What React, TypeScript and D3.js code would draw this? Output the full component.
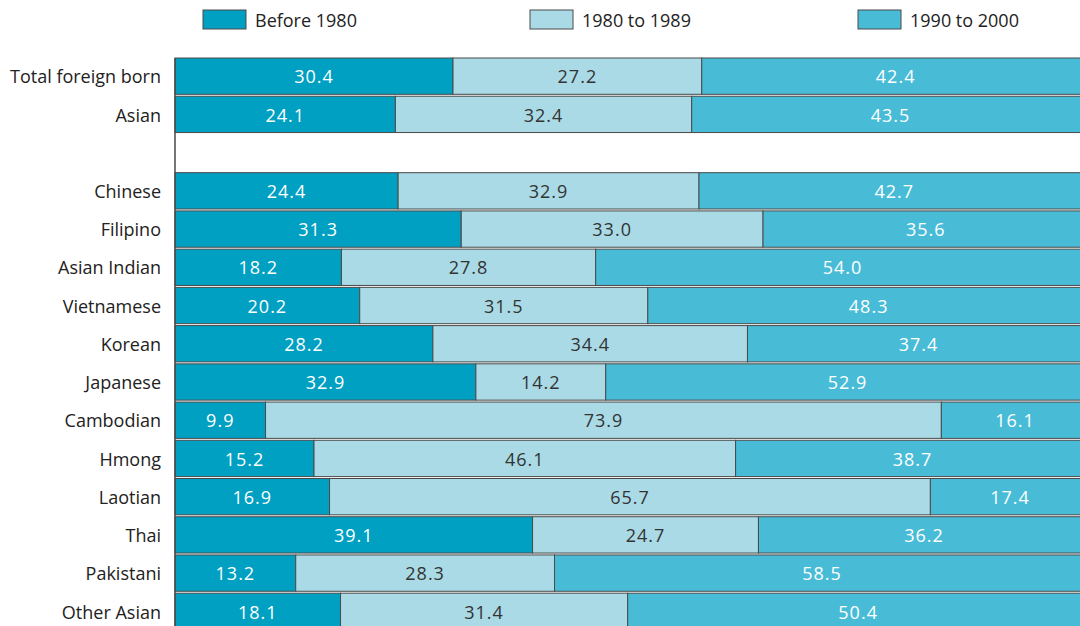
import { useEffect, useRef } from 'react';
import * as d3 from 'd3';

const categories = [
  'Total foreign born', 'Asian', '', 'Chinese', 'Filipino', 'Asian Indian', 'Vietnamese',
  'Korean', 'Japanese', 'Cambodian', 'Hmong', 'Laotian', 'Thai', 'Pakistani', 'Other Asian',
];
const before1980 = [30.4, 24.1, null, 24.4, 31.3, 18.2, 20.2, 28.2, 32.9, 9.9, 15.2, 16.9, 39.1, 13.2, 18.1];
const from1980 = [27.2, 32.4, null, 32.9, 33.0, 27.8, 31.5, 34.4, 14.2, 73.9, 46.1, 65.7, 24.7, 28.3, 31.4];
const from1990 = [42.4, 43.5, null, 42.7, 35.6, 54.0, 48.3, 37.4, 52.9, 16.1, 38.7, 17.4, 36.2, 58.5, 50.4];

const seriesNames = ['Before 1980', '1980 to 1989', '1990 to 2000'];
const colors = ['#00a0c2', '#a9dae6', '#48bcd7'];
const textColors = ['#ffffff', '#333333', '#ffffff'];

const FONT = '"Open Sans", Lato, sans-serif';

export default function App() {
  const svgRef = useRef<SVGSVGElement>(null);
  const width = 1080;
  const height = 626;

  useEffect(() => {
    if (!svgRef.current) return;
    const svg = d3.select(svgRef.current);
    svg.selectAll('*').remove();

    const left = 175;
    const top = 58;
    const rowH = 38.1;

    const x = d3.scaleLinear().domain([0, 100]).range([left, left + 914.5]);
    const y = d3.scaleBand<string>()
      .domain(categories.map((c, i) => c || `gap${i}`))
      .range([top, top + rowH * categories.length])
      .paddingInner(0.05)
      .paddingOuter(0);

    const rows = categories.map((c, i) => ({
      key: c || `gap${i}`,
      label: c,
      values: [before1980[i], from1980[i], from1990[i]],
    }));

    // segments
    const segs: { key: string; start: number; value: number; s: number }[] = [];
    rows.forEach(r => {
      let acc = 0;
      r.values.forEach((v, s) => {
        if (v == null) return;
        segs.push({ key: r.key, start: acc, value: v, s });
        acc += v;
      });
    });

    const g = svg.append('g');
    g.selectAll('rect.seg')
      .data(segs)
      .join('rect')
      .attr('class', 'seg')
      .attr('x', d => x(d.start))
      .attr('y', d => y(d.key) || 0)
      .attr('width', d => x(d.start + d.value) - x(d.start))
      .attr('height', y.bandwidth())
      .attr('fill', d => colors[d.s])
      .attr('stroke', '#4a4a4a')
      .attr('stroke-width', 1);

    g.selectAll('text.val')
      .data(segs)
      .join('text')
      .attr('class', 'val')
      .attr('x', d => x(d.start + d.value / 2))
      .attr('y', d => (y(d.key) || 0) + y.bandwidth() / 2)
      .attr('dy', '0.4em')
      .attr('text-anchor', 'middle')
      .style('fill', d => textColors[d.s])
      .style('font-family', FONT)
      .style('font-size', '18px')
      .style('letter-spacing', '1px')
      .text(d => d.value.toFixed(1));

    // left axis line
    svg.append('line')
      .attr('x1', left).attr('x2', left)
      .attr('y1', top).attr('y2', height)
      .attr('stroke', '#4a4a4a')
      .attr('stroke-width', 1.5);

    // category labels
    svg.selectAll('text.cat')
      .data(rows.filter(r => r.label))
      .join('text')
      .attr('class', 'cat')
      .attr('x', left - 14)
      .attr('y', d => (y(d.key) || 0) + y.bandwidth() / 2)
      .attr('dy', '0.4em')
      .attr('text-anchor', 'end')
      .style('fill', '#222')
      .style('font-family', FONT)
      .style('font-size', '18px')
      .text(d => d.label);

    // legend
    const legendX = [203, 530, 858];
    const lg = svg.selectAll('g.legend')
      .data(seriesNames)
      .join('g')
      .attr('class', 'legend')
      .attr('transform', (d, i) => `translate(${legendX[i]},10)`);
    lg.append('rect')
      .attr('width', 43)
      .attr('height', 19)
      .attr('fill', (d, i) => colors[i])
      .attr('stroke', '#4a4a4a')
      .attr('stroke-width', 1);
    lg.append('text')
      .attr('x', 52)
      .attr('y', 10)
      .attr('dy', '0.38em')
      .style('fill', '#222')
      .style('font-family', FONT)
      .style('font-size', '18px')
      .text(d => d);
  }, []);

  return (
    <svg
      ref={svgRef}
      width={width}
      height={height}
      style={{ position: 'fixed', left: 0, top: 0, background: '#fff' }}
    />
  );
}
